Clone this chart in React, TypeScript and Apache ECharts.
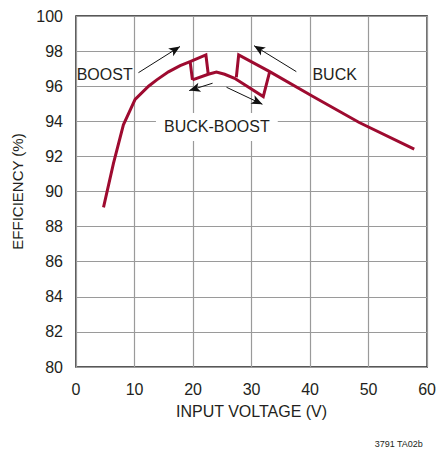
import React, { useEffect, useRef } from "react";
import * as echarts from "echarts";

// Input voltage (V) vs efficiency (%)
const boostCurve: number[][] = [
  [4.7, 89.1], [6.4, 91.6], [8.1, 93.8], [10.1, 95.25], [12.4, 96.0], [13.8, 96.36],
  [15.8, 96.82], [17.8, 97.17], [19.5, 97.4], [22.2, 97.78], [22.6, 96.68],
];
const boostReturn: number[][] = [[19.5, 97.4], [19.9, 96.36]];
const buckBoostCurve: number[][] = [
  [19.9, 96.36], [22.6, 96.68], [24.0, 96.8], [25.4, 96.68], [27.1, 96.45], [32.0, 95.41], [33.1, 96.83],
];
const buckCurve: number[][] = [
  [27.4, 96.51], [27.8, 97.78], [33.1, 96.83], [40.5, 95.41], [48.4, 93.93], [57.8, 92.41],
];

// Annotation arrows: [from, to] in data coordinates
const arrows: number[][][] = [
  [[10.67, 96.77], [17.77, 98.26]],
  [[37.65, 96.83], [30.43, 98.31]],
  [[23.34, 96.17], [19.35, 95.75]],
  [[25.72, 95.94], [31.86, 94.97]],
];
const labelTexts = ["BOOST", "BUCK", "BUCK-BOOST"];
const labelCoords: number[][] = [[4.9, 96.64], [44.2, 96.64], [24.07, 93.68]];

const xMin = 0, xMax = 60, xStep = 10;
const yMin = 80, yMax = 100, yStep = 2;
const xTitle = "INPUT VOLTAGE (V)";
const yTitle = "EFFICIENCY (%)";
const footnote = "3791 TA02b";

const FONT = '"Liberation Sans", Arial, Helvetica, sans-serif';
const CURVE = "#9e0b30";
const TEXT = "#231f20";

export default function App() {
  const ref = useRef<HTMLDivElement>(null);
  useEffect(() => {
    if (!ref.current) return;
    const chart = echarts.init(ref.current, null, { renderer: "svg" });
    const lineSeries = (name: string, data: number[][], extra: any = {}) => ({
      name,
      type: "line",
      data,
      showSymbol: false,
      symbol: "none",
      silent: true,
      lineStyle: { color: CURVE, width: 3, join: "miter" },
      z: 3,
      ...extra,
    });
    chart.setOption({
      animation: false,
      textStyle: { fontFamily: FONT },
      grid: { left: 76, top: 16, width: 352, height: 351, show: true, borderColor: "#222", borderWidth: 1.5, backgroundColor: "transparent" },
      xAxis: {
        type: "value", min: xMin, max: xMax, interval: xStep,
        name: xTitle, nameLocation: "middle", nameGap: 36,
        nameTextStyle: { fontFamily: FONT, fontSize: 16, color: TEXT },
        axisLine: { show: false }, axisTick: { show: false },
        axisLabel: { fontFamily: FONT, fontSize: 16, color: TEXT, margin: 14 },
        splitLine: { show: true, lineStyle: { color: "#9a9a9a", width: 1.2 } },
      },
      yAxis: {
        type: "value", min: yMin, max: yMax, interval: yStep,
        name: yTitle, nameLocation: "middle", nameGap: 51, nameRotate: 90,
        nameTextStyle: { fontFamily: FONT, fontSize: 15, color: TEXT },
        axisLine: { show: false }, axisTick: { show: false },
        axisLabel: { fontFamily: FONT, fontSize: 16, color: TEXT, margin: 13 },
        splitLine: { show: true, lineStyle: { color: "#9a9a9a", width: 1.2 } },
      },
      series: [
        lineSeries("Boost", boostCurve, {
          markLine: {
            silent: true,
            symbol: ["none", "arrow"],
            symbolSize: [7, 11],
            label: { show: false },
            lineStyle: { color: "#111", width: 1, type: "solid" },
            emphasis: { disabled: true },
            data: arrows.map((a) => [{ coord: a[0] }, { coord: a[1] }]),
          },
          markPoint: {
            silent: true,
            symbol: "rect",
            symbolSize: 0,
            data: labelTexts.map((t, i) => ({
              coord: labelCoords[i],
              label: {
                show: true,
                formatter: t,
                position: "inside",
                fontFamily: FONT,
                fontSize: 16,
                color: TEXT,
                backgroundColor: i === 2 ? "#fff" : "transparent",
                padding: i === 2 ? [6, 8] : 0,
              },
            })),
          },
        }),
        lineSeries("Boost to buck-boost", boostReturn),
        lineSeries("Buck-boost", buckBoostCurve),
        lineSeries("Buck", buckCurve),
      ],
      graphic: [
        {
          type: "text",
          right: 16,
          top: 439,
          style: { text: footnote, fontFamily: FONT, fontSize: 9, fill: TEXT },
        },
      ],
    });
    return () => chart.dispose();
  }, []);
  return <div ref={ref} style={{ position: "fixed", left: 0, top: 0, width: 439, height: 449, background: "#fff" }} />;
}
